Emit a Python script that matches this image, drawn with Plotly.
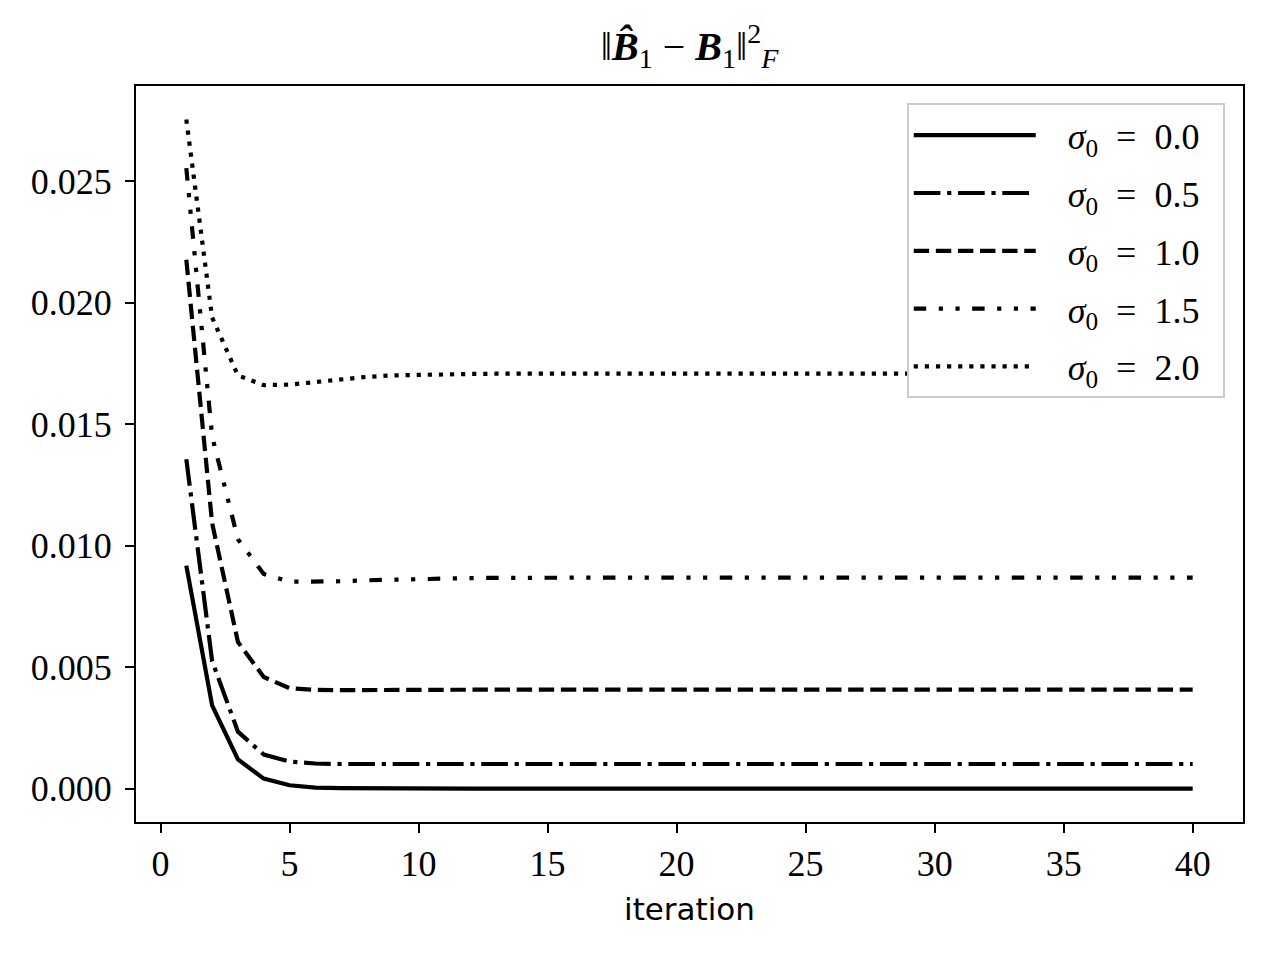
import plotly.graph_objects as go

# data
iterations = list(range(1, 41))

err_sigma_00 = [0.00917, 0.00342, 0.00120, 0.00041, 0.000135, 0.00004, 0.000015, 0.000005,
                0.0, 0.0, 0.0, 0.0, 0.0, 0.0, 0.0, 0.0, 0.0, 0.0, 0.0, 0.0,
                0.0, 0.0, 0.0, 0.0, 0.0, 0.0, 0.0, 0.0, 0.0, 0.0,
                0.0, 0.0, 0.0, 0.0, 0.0, 0.0, 0.0, 0.0, 0.0, 0.0]
err_sigma_05 = [0.01355, 0.00525, 0.00234, 0.00140, 0.00111, 0.00103, 0.00101, 0.00101,
                0.00101, 0.00101, 0.00101, 0.00101, 0.00101, 0.00101, 0.00101, 0.00101,
                0.00101, 0.00101, 0.00101, 0.00101, 0.00101, 0.00101, 0.00101, 0.00101,
                0.00101, 0.00101, 0.00101, 0.00101, 0.00101, 0.00101, 0.00101, 0.00101,
                0.00101, 0.00101, 0.00101, 0.00101, 0.00101, 0.00101, 0.00101, 0.00101]
err_sigma_10 = [0.02176, 0.01092, 0.00603, 0.00459, 0.00413, 0.00406, 0.00405, 0.00406,
                0.00407, 0.00407, 0.00407, 0.00407, 0.00407, 0.00407, 0.00407, 0.00407,
                0.00407, 0.00407, 0.00407, 0.00407, 0.00407, 0.00407, 0.00407, 0.00407,
                0.00407, 0.00407, 0.00407, 0.00407, 0.00407, 0.00407, 0.00407, 0.00407,
                0.00407, 0.00407, 0.00407, 0.00407, 0.00407, 0.00407, 0.00407, 0.00407]
err_sigma_15 = [0.02553, 0.01449, 0.01026, 0.00883, 0.00851, 0.00850, 0.00853, 0.00857,
                0.00860, 0.00862, 0.00864, 0.00866, 0.00867, 0.00868, 0.00868, 0.00868,
                0.00868, 0.00868, 0.00868, 0.00868, 0.00868, 0.00868, 0.00868, 0.00868,
                0.00868, 0.00868, 0.00868, 0.00868, 0.00868, 0.00868, 0.00868, 0.00868,
                0.00868, 0.00868, 0.00868, 0.00868, 0.00868, 0.00868, 0.00868, 0.00868]
err_sigma_20 = [0.02753, 0.01938, 0.01700, 0.01660, 0.01662, 0.01673, 0.01684, 0.01694,
                0.01700, 0.01703, 0.01705, 0.01706, 0.01707, 0.01707, 0.01707, 0.01707,
                0.01707, 0.01707, 0.01707, 0.01707, 0.01707, 0.01707, 0.01707, 0.01707,
                0.01707, 0.01707, 0.01707, 0.01707, 0.01707, 0.01707, 0.01707, 0.01707,
                0.01707, 0.01707, 0.01707, 0.01707, 0.01707, 0.01707, 0.01707, 0.01707]

sigma_labels = ['0.0', '0.5', '1.0', '1.5', '2.0']

x_tick_vals = [0, 5, 10, 15, 20, 25, 30, 35, 40]
y_tick_vals = [0.0, 0.005, 0.010, 0.015, 0.020, 0.025]
y_tick_text = ['0.000', '0.005', '0.010', '0.015', '0.020', '0.025']

# matplotlib-like dash patterns (lw 1.5pt at 200 dpi)
dashes = [
    'solid',
    '26.7px,6.7px,4.2px,6.7px',
    '15.4px,6.7px',
    '12.5px,12.5px,4.2px,12.5px,4.2px,12.5px',
    '4.2px,6.9px',
]

serif = 'Liberation Serif'
sans = 'DejaVu Sans'
nb = '\u00a0'   # keeps space between legend sample and label
en = '\u2002'   # math-like spacing around "="

fig = go.Figure()

series = [err_sigma_00, err_sigma_05, err_sigma_10, err_sigma_15, err_sigma_20]
for i, (vals, lab) in enumerate(zip(series, sigma_labels)):
    fig.add_trace(
        go.Scatter(
            x=iterations, y=vals,
            mode='lines',
            name=nb * 3 + '<i>σ</i><sub>0</sub>' + en + '=' + en + lab + nb * 2,
            legendgroup='g%d' % i,
            line=dict(color='black', width=4.2, dash=dashes[i]),
        )
    )

# the page body adds an 8px offset, so margins are shifted to compensate
fig.update_layout(
    width=1280,
    height=960,
    paper_bgcolor='white',
    plot_bgcolor='white',
    margin=dict(l=127.5, r=44.7, t=77.7, b=146, autoexpand=False),
    title=dict(
        text='‖<b><i>B̂</i></b><sub>1</sub> − <b><i>B</i></b><sub>1</sub>‖<sup>2</sup><sub><i>F</i></sub>',
        font=dict(family=serif, size=40, color='black'),
        x=0.5, xref='paper', xanchor='center',
        y=1 - 38 / 960, yref='container', yanchor='middle',
    ),
    legend=dict(
        x=0.9835, y=0.9765, xanchor='right', yanchor='top',
        bgcolor='white',
        bordercolor='#cccccc', borderwidth=2,
        font=dict(family=serif, size=36, color='black'),
        itemwidth=122,
        tracegroupgap=8,
    ),
    showlegend=True,
)

fig.update_xaxes(
    range=[-0.95, 41.95],
    tickvals=x_tick_vals,
    ticks='outside', ticklen=9, tickwidth=2.2, tickcolor='black',
    showline=True, linewidth=2.2, linecolor='black', mirror=True,
    showgrid=False, zeroline=False,
    tickfont=dict(family=serif, size=36, color='black'),
    title=dict(text='iteration', font=dict(family=sans, size=31, color='black'), standoff=15),
    automargin=False,
)
fig.update_yaxes(
    range=[-0.001377, 0.02891],
    tickvals=y_tick_vals, ticktext=y_tick_text,
    ticks='outside', ticklen=9, tickwidth=2.2, tickcolor='black',
    showline=True, linewidth=2.2, linecolor='black', mirror=True,
    showgrid=False, zeroline=False,
    tickfont=dict(family=serif, size=36, color='black'),
    ticklabelstandoff=6,
    automargin=False,
)

fig.write_html('out.html')
